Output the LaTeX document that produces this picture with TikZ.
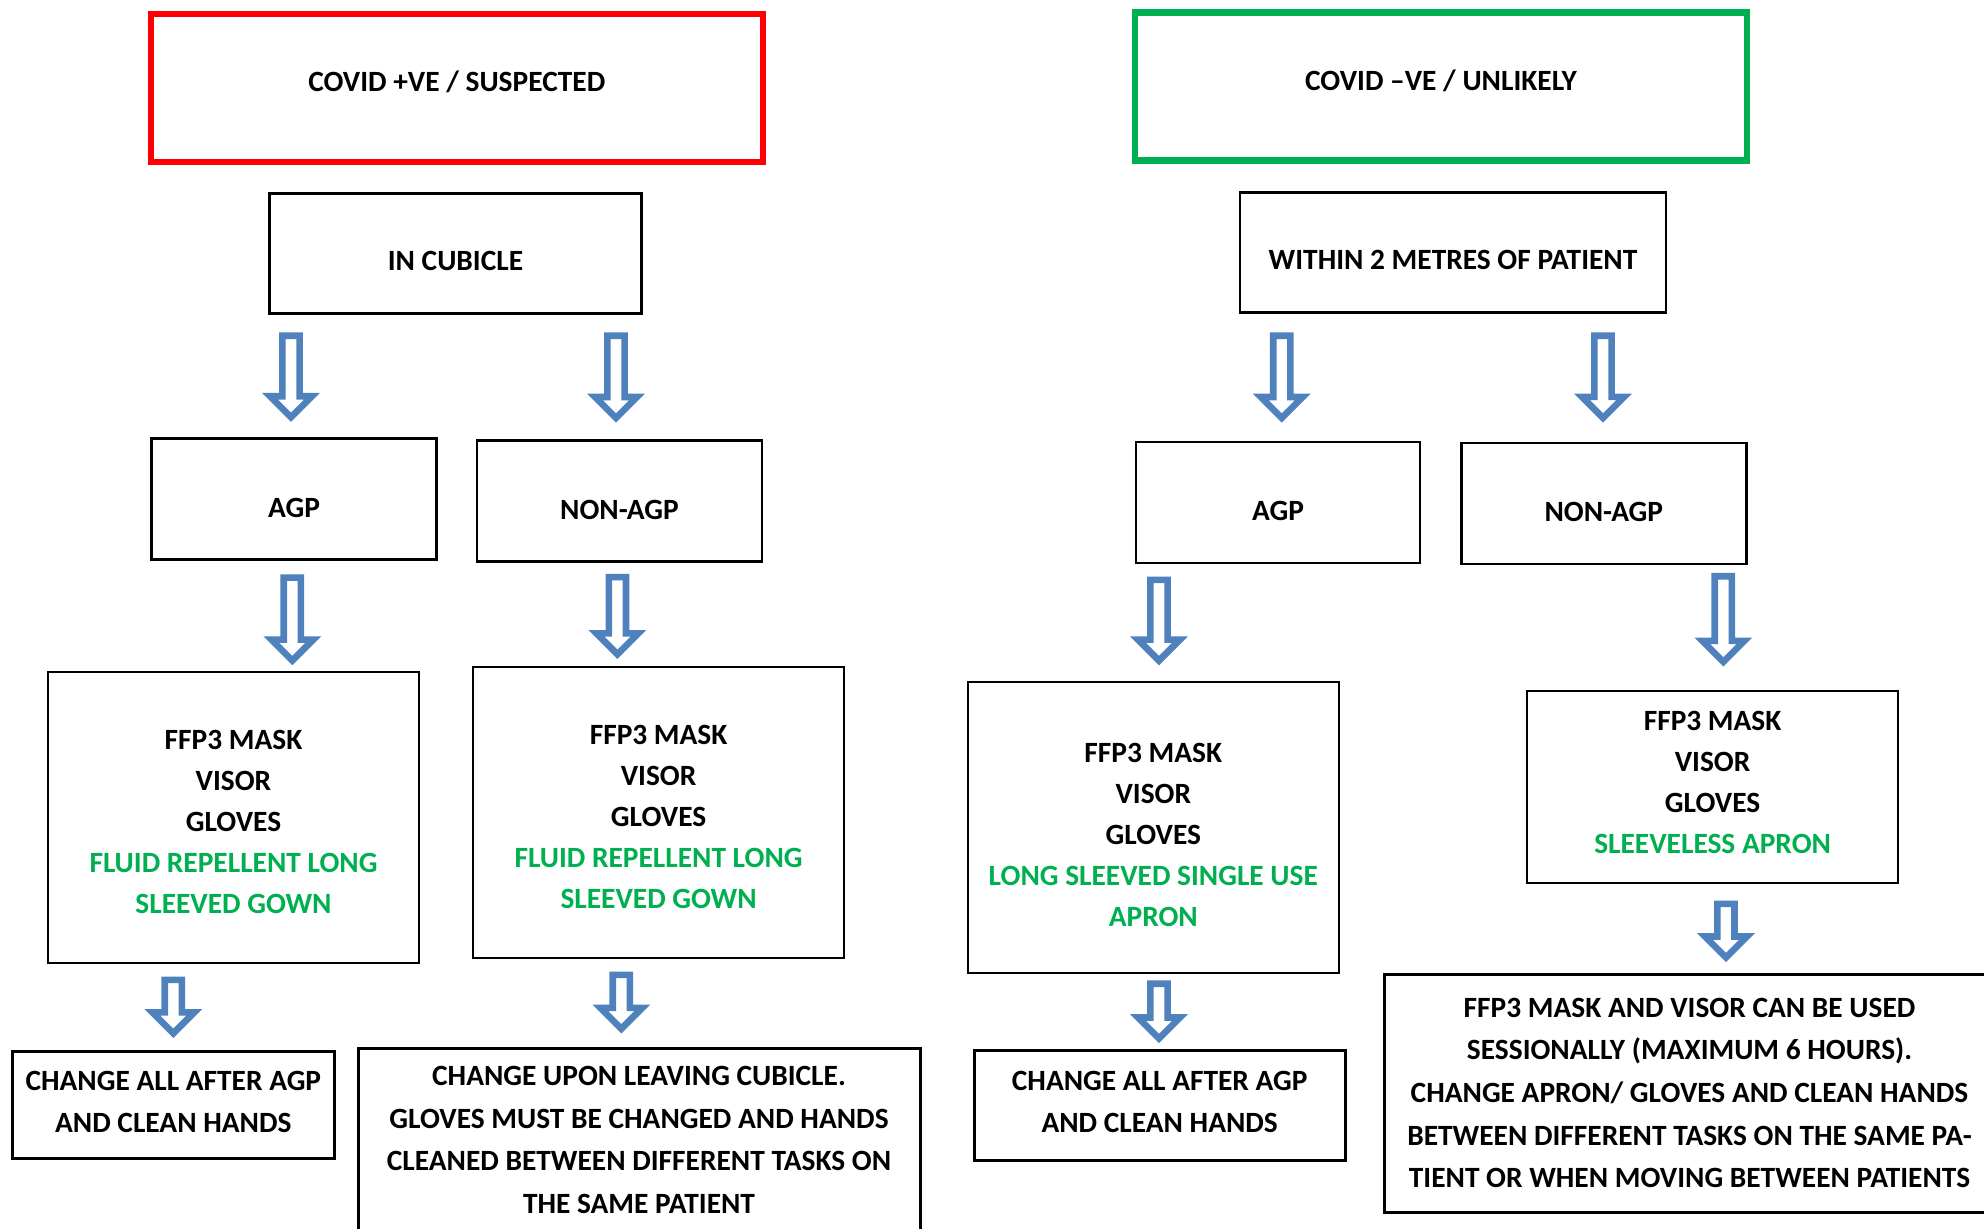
\documentclass[tikz,border=0pt]{standalone}
\usepackage{fontspec}
\setmainfont{Carlito}
\usetikzlibrary{calc}
\definecolor{covidRed}{RGB}{255,0,0}
\definecolor{covidGreen}{RGB}{0,176,80}
\definecolor{arrowBlue}{RGB}{79,129,189}
\tikzset{%%
  box/.style={draw, line width=1.2pt, align=center, inner sep=0pt,
    font=\bfseries\fontsize{14.7}{20.5}\selectfont},
  headbox/.style={box, line width=3.2pt, minimum width=306pt, minimum height=74pt,
    text height=9.5pt, text depth=5.7pt},
  kindbox/.style={box, minimum width=142.5pt, minimum height=60.5pt,
    text height=18pt, text depth=0pt},
  endbox/.style={box, line width=1.5pt, font=\bfseries\fontsize{14.7}{21.3}\selectfont},
  hollow/.style={draw=arrowBlue, line width=3.3pt, fill=white, line join=miter}
  }
% hollow block arrow: x and top from #1, tip from #2
\newcommand{\hollowarrow}[2]{%
  \draw[hollow] let \p1=(#1), \p2=(#2) in
    (\x1-4.3pt,\y1-1.6pt) -- (\x1+4.3pt,\y1-1.6pt) -- (\x1+4.3pt,\y2+13pt)
    -- (\x1+10.5pt,\y2+13pt) -- (\x1,\y2+2.5pt) -- (\x1-10.5pt,\y2+13pt)
    -- (\x1-4.3pt,\y2+13pt) -- cycle;}

\begin{document}
\begin{tikzpicture}[x=0.5pt,y=-0.5pt]
  \useasboundingbox (0,0) rectangle (1984,1229);
  % headers
  \node[headbox, draw=covidRed] (pos) at (456.8,88) {COVID +VE / SUSPECTED};
  \node[headbox, draw=covidGreen] (neg) at (1441,86.7) {COVID \textendash VE / UNLIKELY};
  \node[box, minimum width=186pt, minimum height=60pt, text height=17pt, text depth=0pt] (cub) at (455.5,253.7) {IN CUBICLE};
  \node[box, minimum width=213pt, minimum height=60pt, text height=17pt, text depth=0pt] (near) at (1453,252.4) {WITHIN 2 METRES OF PATIENT};
  % procedure type
  \node[kindbox] (agpL) at (294,499) {AGP};
  \node[kindbox] (nagpL) at (619.4,501) {NON-AGP};
  \node[kindbox, minimum width=142pt] (agpR) at (1278,502.3) {AGP};
  \node[kindbox] (nagpR) at (1603.8,503.6) {NON-AGP};
  % ppe
  \node[box, minimum width=185.5pt, minimum height=145.5pt] (ppeL) at (233.5,817.4)
    {\rule{0pt}{14.5pt}FFP3 MASK\\VISOR\\GLOVES\\\textcolor{covidGreen}{FLUID REPELLENT LONG}\\\textcolor{covidGreen}{SLEEVED GOWN}};
  \node[box, minimum width=185.5pt, minimum height=145.5pt] (ppeLn) at (658.6,812.3)
    {\rule{0pt}{14.5pt}FFP3 MASK\\VISOR\\GLOVES\\\textcolor{covidGreen}{FLUID REPELLENT LONG}\\\textcolor{covidGreen}{SLEEVED GOWN}};
  \node[box, minimum width=185.5pt, minimum height=145.5pt] (ppeR) at (1153.3,827.5)
    {\rule{0pt}{17.1pt}FFP3 MASK\\VISOR\\GLOVES\\\textcolor{covidGreen}{LONG SLEEVED SINGLE USE}\\\textcolor{covidGreen}{APRON}};
  \node[box, minimum width=185.5pt, minimum height=96pt] (ppeRn) at (1712.6,787)
    {FFP3 MASK\\VISOR\\GLOVES\\\textcolor{covidGreen}{SLEEVELESS APRON}\rule[-4.4pt]{0pt}{0pt}};
  % after care
  \node[endbox, minimum width=160.7pt, minimum height=53.7pt] (endL) at (173.3,1105)
    {CHANGE ALL AFTER AGP\\AND CLEAN HANDS\rule[-3.2pt]{0pt}{0pt}};
  \node[endbox, minimum width=281pt, minimum height=92pt] (endLn) at (639,1140)
    {CHANGE UPON LEAVING CUBICLE.\\GLOVES MUST BE CHANGED AND HANDS\\CLEANED BETWEEN DIFFERENT TASKS ON\\THE SAME PATIENT};
  \node[endbox, minimum width=185.5pt, minimum height=55pt] (endR) at (1159.7,1105)
    {CHANGE ALL AFTER AGP\\AND CLEAN HANDS\rule[-3.2pt]{0pt}{0pt}};
  \node[endbox, minimum width=305.5pt, minimum height=119pt] (endRn) at (1689.5,1093)
    {FFP3 MASK AND VISOR CAN BE USED\\SESSIONALLY (MAXIMUM 6 HOURS).\\CHANGE APRON/ GLOVES AND CLEAN HANDS\\BETWEEN DIFFERENT TASKS ON THE SAME PA-\\TIENT OR WHEN MOVING BETWEEN PATIENTS};
  % arrows
  \hollowarrow{$(cub.south)+(-164.5,17.7)$}{$(agpL.north)+(0,-15)$}
  \hollowarrow{$(cub.south)+(160.5,17.7)$}{$(nagpL.north)+(0,-16.3)$}
  \hollowarrow{$(near.south)+(-171.2,19)$}{$(agpR.north)+(0,-17.6)$}
  \hollowarrow{$(near.south)+(150,19)$}{$(nagpR.north)+(0,-19)$}
  \hollowarrow{$(agpL.south)+(-1.7,13.7)$}{$(ppeL.north)+(0,-5.1)$}
  \hollowarrow{$(nagpL.south)+(-2,11.2)$}{$(ppeLn.north)+(0,-6.3)$}
  \hollowarrow{$(agpR.south)+(-119,12.7)$}{$(ppeR.north)+(0,-15.2)$}
  \hollowarrow{$(nagpR.south)+(119.5,7.7)$}{$(ppeRn.north)+(0,-22.9)$}
  \hollowarrow{$(ppeL.south)+(-60.2,12.6)$}{$(endL.north)+(0,-11.5)$}
  \hollowarrow{$(ppeLn.south)+(-37.3,12.7)$}{$(endLn.north)+(0,-12.7)$}
  \hollowarrow{$(ppeR.south)+(5.7,6.3)$}{$(endR.north)+(0,-5)$}
  \hollowarrow{$(ppeRn.south)+(13.3,16.4)$}{$(endRn.north)+(0,-10)$}
\end{tikzpicture}
\end{document}
